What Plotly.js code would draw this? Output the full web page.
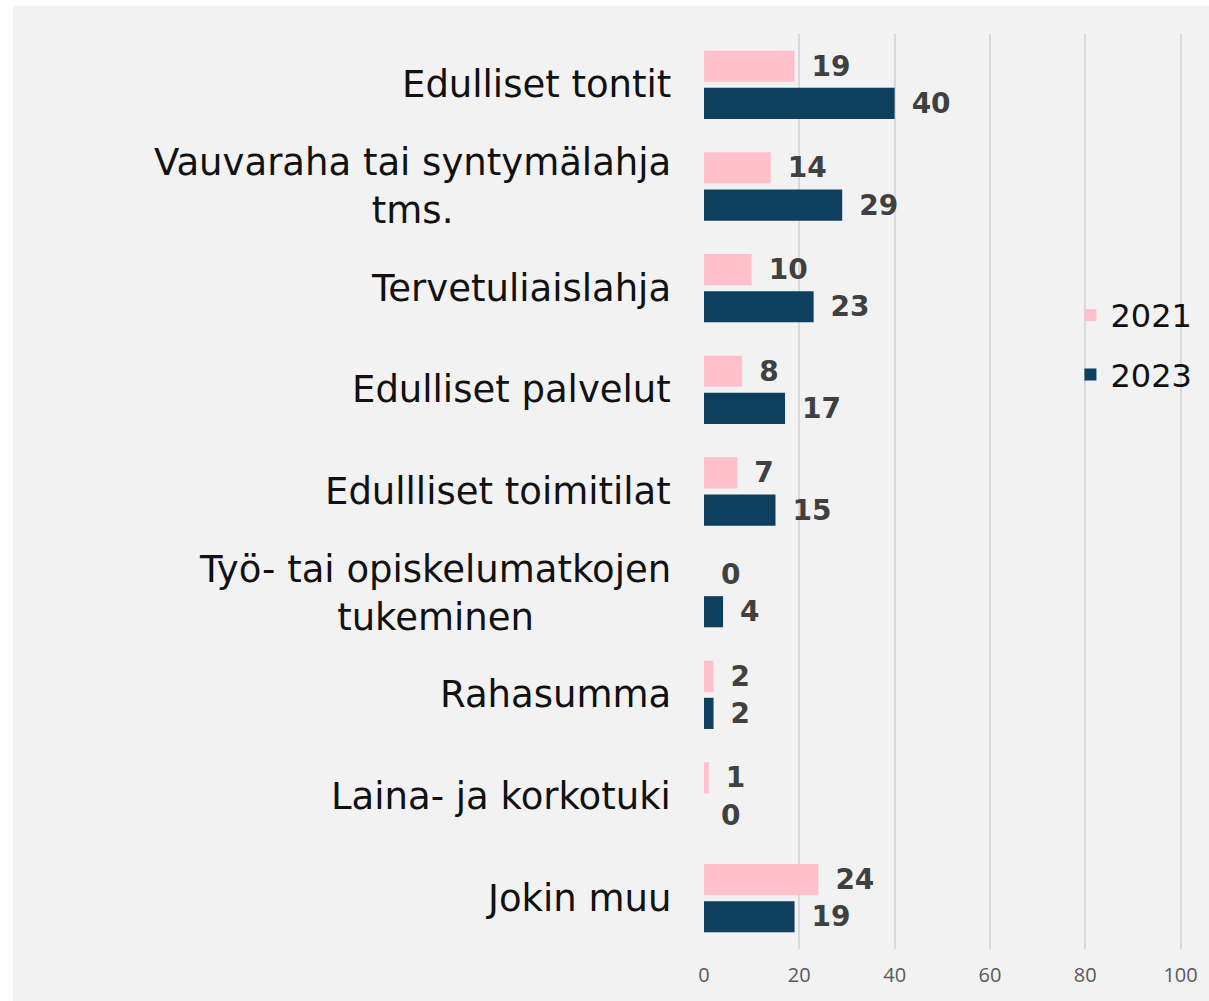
<!DOCTYPE html>
<html>
<head>
<meta charset="utf-8">
<script src="https://cdn.plot.ly/plotly-3.0.1.min.js"></script>
<style>
  html, body { margin: 0; padding: 0; background: #ffffff; width: 1209px; height: 1001px; overflow: hidden; }
  #chart { position: absolute; left: 13px; top: 6px; width: 1196px; height: 995px; }
</style>
</head>
<body>
<div id="chart"></div>
<script>
const categories = [
  "Edulliset tontit",
  "Vauvaraha tai syntymälahja<br>tms.",
  "Tervetuliaislahja",
  "Edulliset palvelut",
  "Edullliset toimitilat",
  "Työ- tai opiskelumatkojen<br>tukeminen",
  "Rahasumma",
  "Laina- ja korkotuki",
  "Jokin muu"
];
const seriesNames = ["2021", "2023"];
const values2021 = [19, 14, 10, 8, 7, 0, 2, 1, 24];
const values2023 = [40, 29, 23, 17, 15, 4, 2, 0, 19];
const xTicks = [0, 20, 40, 60, 80, 100];

const colors = ["#ffc0cb", "#0f3f5f"];
const labelFont = { family: "DejaVu Sans", size: 28, color: "#404040", weight: "bold" };

const traces = [values2021, values2023].map((vals, i) => ({
  type: "bar",
  orientation: "h",
  name: seriesNames[i],
  legendgroup: "g" + i,
  y: categories,
  x: vals,
  marker: { color: colors[i] },
  text: vals.map(v => String(v)),
  texttemplate: "\u2002%{text}",
  textposition: "outside",
  cliponaxis: false,
  constraintext: "none",
  textfont: labelFont,
  hoverinfo: "skip"
}));

const annotations = categories.map(c => ({
  xref: "paper", yref: "y",
  x: 0, y: c,
  xanchor: "right", yanchor: "middle",
  xshift: -31,
  align: "center",
  text: c,
  showarrow: false,
  font: { family: "DejaVu Sans", size: 37, color: "#111111" }
}));

const layout = {
  width: 1196, height: 995,
  paper_bgcolor: "#f2f2f2",
  plot_bgcolor: "#f2f2f2",
  margin: { l: 691, r: 26, t: 28, b: 52, pad: 0 },
  barmode: "group",
  bargap: 0.27,
  bargroupgap: 0.16,
  showlegend: true,
  legend: {
    x: 0.765, xanchor: "left",
    y: 0.66, yanchor: "middle",
    bgcolor: "rgba(0,0,0,0)",
    traceorder: "grouped",
    tracegroupgap: 15,
    font: { family: "DejaVu Sans", size: 32, color: "#111111" }
  },
  xaxis: {
    range: [0, 100.3],
    tickvals: xTicks,
    ticktext: xTicks.map(String),
    showgrid: true,
    gridcolor: "#d9d9d9",
    gridwidth: 2,
    zeroline: false,
    showline: false,
    ticks: "",
    ticklabelstandoff: 12,
    tickfont: { family: "Open Sans", size: 20, color: "#595959" },
    fixedrange: true
  },
  yaxis: {
    type: "category",
    autorange: "reversed",
    showticklabels: false,
    showgrid: false,
    zeroline: false,
    showline: false,
    ticks: "",
    fixedrange: true
  },
  annotations: annotations
};

Plotly.newPlot("chart", traces, layout, { displayModeBar: false, staticPlot: true });
</script>
</body>
</html>
